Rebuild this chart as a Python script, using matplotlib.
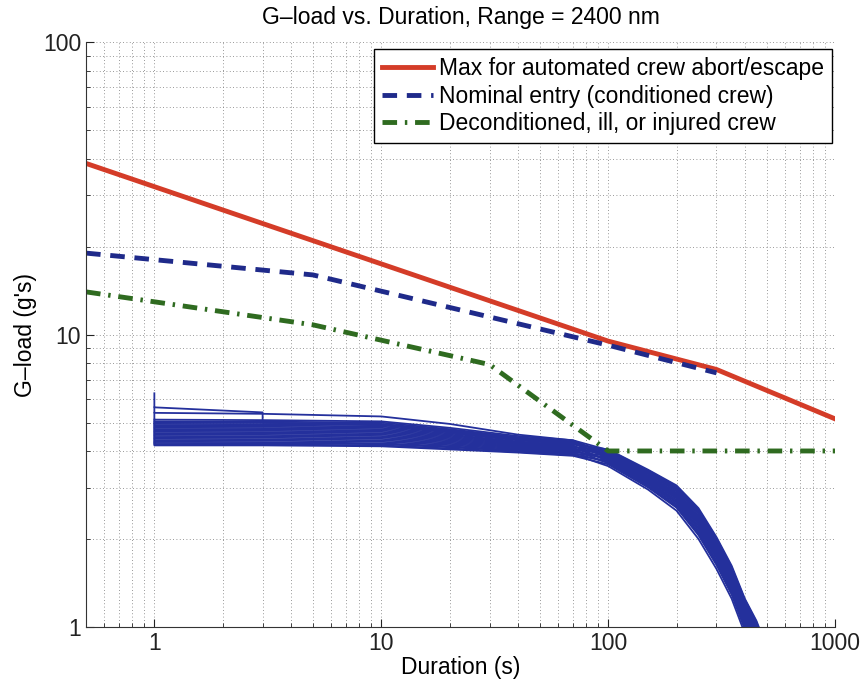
import matplotlib
matplotlib.use("Agg")
import matplotlib.pyplot as plt
from matplotlib.ticker import LogLocator, FuncFormatter, NullFormatter

plt.rcParams['font.family'] = ['Liberation Sans', 'DejaVu Sans']

# limit curves (duration s, g)
red_dur = [0.5, 100, 300, 1000]
red_g = [38.5, 9.5, 7.6, 5.15]

nominal_dur = [0.5, 5, 100, 300]
nominal_g = [19.0, 16.0, 9.2, 7.4]

decond_dur = [0.5, 5, 30, 100, 1000]
decond_g = [14.0, 10.8, 7.9, 4.0, 4.0]

# trajectory runs, first value is the peak at 1 s
run_dur = [1, 1, 3, 10, 20, 40, 70, 100, 150, 200, 250, 300, 350, 400, 450, 500]
runs_g = [
    [4.22, 4.18, 4.18, 4.15, 4.05, 3.95, 3.85, 3.60, 3.00, 2.56, 2.06, 1.63, 1.29, 0.98, 0.78, 0.63],
    [4.26, 4.22, 4.21, 4.18, 4.08, 3.97, 3.87, 3.70, 3.10, 2.67, 2.17, 1.72, 1.36, 1.04, 0.84, 0.68],
    [4.30, 4.26, 4.25, 4.22, 4.12, 4.00, 3.90, 3.55, 2.95, 2.50, 2.00, 1.58, 1.25, 0.95, 0.75, 0.60],
    [4.35, 4.30, 4.29, 4.25, 4.15, 4.02, 3.92, 3.80, 3.20, 2.78, 2.28, 1.81, 1.44, 1.10, 0.90, 0.73],
    [4.40, 4.35, 4.34, 4.30, 4.19, 4.05, 3.94, 3.65, 3.05, 2.61, 2.11, 1.67, 1.32, 1.01, 0.81, 0.65],
    [4.45, 4.40, 4.39, 4.35, 4.23, 4.08, 3.97, 3.85, 3.25, 2.83, 2.33, 1.85, 1.47, 1.13, 0.93, 0.75],
    [4.50, 4.45, 4.44, 4.40, 4.27, 4.11, 4.00, 3.75, 3.15, 2.72, 2.22, 1.76, 1.40, 1.07, 0.87, 0.70],
    [4.55, 4.50, 4.49, 4.45, 4.31, 4.14, 4.02, 3.95, 3.35, 2.94, 2.44, 1.94, 1.55, 1.19, 0.99, 0.80],
    [4.60, 4.55, 4.54, 4.50, 4.35, 4.17, 4.05, 3.63, 3.03, 2.58, 2.08, 1.65, 1.31, 1.00, 0.80, 0.64],
    [4.65, 4.60, 4.59, 4.55, 4.39, 4.20, 4.07, 3.90, 3.30, 2.88, 2.38, 1.90, 1.51, 1.16, 0.96, 0.78],
    [4.70, 4.65, 4.64, 4.60, 4.43, 4.23, 4.10, 3.73, 3.13, 2.69, 2.19, 1.74, 1.38, 1.06, 0.86, 0.69],
    [4.75, 4.70, 4.69, 4.65, 4.47, 4.26, 4.13, 4.00, 3.40, 3.00, 2.50, 1.99, 1.58, 1.22, 1.02, 0.83],
    [4.80, 4.75, 4.74, 4.70, 4.51, 4.29, 4.15, 3.83, 3.23, 2.80, 2.30, 1.83, 1.45, 1.12, 0.92, 0.74],
    [4.85, 4.80, 4.79, 4.75, 4.55, 4.31, 4.18, 3.68, 3.08, 2.64, 2.14, 1.69, 1.34, 1.03, 0.83, 0.66],
    [4.90, 4.85, 4.84, 4.80, 4.59, 4.35, 4.21, 4.05, 3.45, 3.05, 2.55, 2.03, 1.62, 1.25, 1.05, 0.85],
    [4.95, 4.90, 4.89, 4.85, 4.63, 4.37, 4.23, 3.88, 3.28, 2.86, 2.36, 1.87, 1.49, 1.15, 0.95, 0.76],
    [5.00, 4.95, 4.94, 4.90, 4.66, 4.40, 4.26, 3.78, 3.18, 2.75, 2.25, 1.78, 1.42, 1.09, 0.89, 0.71],
    [5.05, 5.00, 4.99, 4.95, 4.71, 4.43, 4.29, 3.98, 3.38, 2.97, 2.47, 1.96, 1.56, 1.21, 1.01, 0.81],
    [5.12, 5.05, 5.04, 5.00, 4.75, 4.46, 4.31, 3.93, 3.33, 2.91, 2.41, 1.92, 1.53, 1.18, 0.98, 0.79],
    [5.40, 5.12, 5.10, 5.05, 4.80, 4.50, 4.35, 4.03, 3.43, 3.02, 2.52, 2.01, 1.60, 1.24, 1.04, 0.84],
    [5.64, 5.40, 5.36, 5.25, 4.95, 4.55, 4.35, 3.85, 3.25, 2.83, 2.33, 1.85, 1.47, 1.13, 0.93, 0.75],
]

# one run with a spike and a step at 3 s
spike_dur = [1, 1, 3, 3, 10, 20, 40, 70, 100, 150, 200, 250, 300, 350, 400, 450, 500]
spike_g = [6.3, 5.64, 5.42, 5.0, 4.92, 4.7, 4.42, 4.28, 3.80, 3.20, 2.78, 2.28, 1.81, 1.44, 1.10, 0.90, 0.73]

run_color = '#24309c'
fs = 16.5

fig = plt.figure(figsize=(8.63, 6.84), dpi=100)
ax = fig.add_axes([0.0997, 0.0833, 0.868, 0.855])

for g in runs_g:
    ax.plot(run_dur, g, color=run_color, lw=1.3)
ax.plot(spike_dur, spike_g, color=run_color, lw=1.3)

ax.plot(red_dur, red_g, color='#d43c28', lw=3.5,
        label='Max for automated crew abort/escape')
ax.plot(nominal_dur, nominal_g, color='#1f2a8a', lw=3.5, ls=(0, (3, 2)),
        label='Nominal entry (conditioned crew)')
ax.plot(decond_dur, decond_g, color='#2f6b20', lw=3.5, ls=(0, (3, 1.6, 0.5, 1.6)),
        label='Deconditioned, ill, or injured crew')

ax.set_xscale('log')
ax.set_yscale('log')
ax.set_xlim(0.5, 1000)
ax.set_ylim(1, 100)

fmt = FuncFormatter(lambda v, p: '%g' % v)
ax.xaxis.set_major_locator(LogLocator(base=10))
ax.yaxis.set_major_locator(LogLocator(base=10))
ax.xaxis.set_minor_locator(LogLocator(base=10, subs=range(2, 10)))
ax.yaxis.set_minor_locator(LogLocator(base=10, subs=range(2, 10)))
ax.xaxis.set_major_formatter(fmt)
ax.yaxis.set_major_formatter(fmt)
ax.xaxis.set_minor_formatter(NullFormatter())
ax.yaxis.set_minor_formatter(NullFormatter())

ax.grid(True, which='both', color='#777777', ls=(0, (1, 3)), lw=0.6)
ax.spines['top'].set_visible(False)
ax.spines['right'].set_visible(False)
ax.spines['left'].set_color('#333333')
ax.spines['bottom'].set_color('#333333')
ax.tick_params(which='both', direction='in', labelsize=fs, colors='#222222')
ax.tick_params(which='major', length=6)
ax.tick_params(which='minor', length=3)

ax.set_xlabel('Duration (s)', fontsize=fs, labelpad=1)
ax.set_ylabel("G\u2013load (g's)", fontsize=fs, labelpad=4)
ax.set_title('G\u2013load vs. Duration, Range = 2400 nm', fontsize=fs, pad=13)

leg = ax.legend(loc='upper right', bbox_to_anchor=(0.996, 0.988), borderaxespad=0,
                fontsize=fs, fancybox=False, framealpha=1, edgecolor='black',
                handlelength=2.2, handletextpad=0.28, labelspacing=0.2,
                borderpad=0.35)
leg.get_frame().set_linewidth(1.0)

fig.savefig('out.png', dpi=100)
